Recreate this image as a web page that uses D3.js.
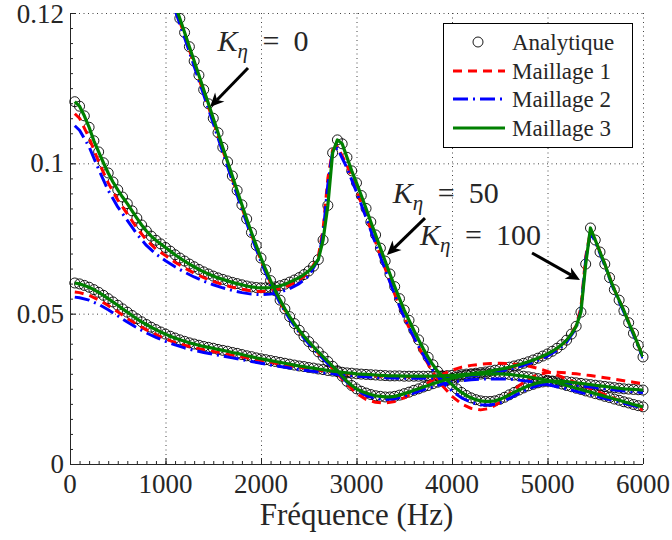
<!DOCTYPE html>
<html><head><meta charset="utf-8">
<script src="https://cdn.jsdelivr.net/npm/d3@7"></script>
<style>body{margin:0;background:#fff}</style>
</head><body>
<svg id="c" width="672" height="540"></svg>
<script>
// ---------------- DATA ----------------
const X_TICKS = [0, 1000, 2000, 3000, 4000, 5000, 6000];
const X_TICK_LABELS = ["0", "1000", "2000", "3000", "4000", "5000", "6000"];
const Y_TICKS = [0, 0.05, 0.1, 0.15];
const Y_TICK_LABELS = ["0", "0.05", "0.1", "0.12"];
const SERIES_NAMES = ["Analytique", "Maillage 1", "Maillage 2", "Maillage 3"];
const CURVE_LABELS = ["0", "50", "100"];

// analytic frequencies (Hz)
const F_ANA = d3.range(50, 6001, 50);
const F_ANA_K0 = d3.range(1100, 6001, 50);
// mesh result frequencies (Hz)
const F_LINE = [50, ...d3.range(100, 2601, 100), 2650, 2700, 2750, ...d3.range(2800, 5301, 100), 5350, 5400, 5450, ...d3.range(5500, 6001, 100)];
const F_LINE_K0 = d3.range(1100, 6001, 100);

// Analytique
const ana_K0 = [0.1528,
 0.1482,0.1435,0.1388,0.134,0.1293,0.1245,0.1198,0.115,0.1102,0.1053,
 0.1005,0.0958,0.091,0.0862,0.0815,0.077,0.0727,0.0685,0.0646,0.061,
 0.0576,0.0545,0.0516,0.049,0.0467,0.0445,0.0425,0.0407,0.039,0.0373,
 0.0357,0.0341,0.0325,0.031,0.0292,0.0275,0.0261,0.025,0.0242,0.0236,
 0.0231,0.0227,0.0225,0.0223,0.0223,0.0225,0.0229,0.0234,0.0239,0.0245,
 0.025,0.0256,0.0261,0.0267,0.0272,0.0277,0.0281,0.0285,0.0289,0.0292,
 0.0295,0.0297,0.0298,0.0299,0.03,0.03,0.03,0.03,0.0299,0.0298,
 0.0296,0.0294,0.0292,0.029,0.0287,0.0284,0.0281,0.0278,0.0274,0.027,
 0.0266,0.0261,0.0257,0.0252,0.0248,0.0243,0.0239,0.0234,0.023,0.0225,
 0.0221,0.0216,0.0212,0.0207,0.0203,0.0198,0.0194,0.019];
const ana_K50 = [
 0.1205,0.119,0.1158,0.112,0.1075,0.1038,0.1002,0.0968,0.0938,0.0912,
 0.0888,0.0866,0.0842,0.0818,0.0795,0.0775,0.0758,0.0744,0.0732,0.072,
 0.0708,0.0696,0.0685,0.0675,0.0665,0.0656,0.0647,0.0639,0.0632,0.0625,
 0.0619,0.0614,0.0609,0.0604,0.06,0.0596,0.0592,0.0589,0.0587,0.0586,
 0.0586,0.0587,0.0589,0.0593,0.0598,0.0605,0.0612,0.062,0.063,0.0642,
 0.0658,0.068,0.0745,0.086,0.1035,0.1078,0.1065,0.102,0.0975,0.0935,
 0.0893,0.085,0.0805,0.0762,0.0718,0.0675,0.0632,0.059,0.055,0.0512,
 0.0478,0.0445,0.0413,0.0383,0.0355,0.033,0.0308,0.0292,0.0278,0.0264,
 0.025,0.0238,0.0228,0.022,0.0214,0.021,0.0208,0.0208,0.021,0.0215,
 0.0222,0.023,0.0238,0.0246,0.0253,0.026,0.0265,0.027,0.0273,0.0275,
 0.0276,0.0276,0.0275,0.0274,0.0272,0.027,0.0268,0.0266,0.0264,0.0262,
 0.026,0.0258,0.0256,0.0254,0.0252,0.025,0.0249,0.0248,0.0247,0.0246];
const ana_K100 = [
 0.0602,0.0599,0.0594,0.0588,0.058,0.0571,0.0561,0.055,0.0539,0.0528,
 0.0516,0.0505,0.0494,0.0483,0.0473,0.0464,0.0455,0.0447,0.0439,0.0432,
 0.0425,0.0419,0.0413,0.0408,0.0403,0.0399,0.0395,0.0391,0.0388,0.0385,
 0.0381,0.0378,0.0375,0.0371,0.0368,0.0364,0.036,0.0357,0.0353,0.035,
 0.0347,0.0344,0.0341,0.0338,0.0335,0.0332,0.0329,0.0326,0.0324,0.0321,
 0.0319,0.0316,0.0314,0.0311,0.0309,0.0307,0.0305,0.0303,0.0302,0.03,
 0.0299,0.0298,0.0297,0.0296,0.0295,0.0294,0.0293,0.0293,0.0293,0.0292,
 0.0292,0.0292,0.0292,0.0292,0.0292,0.0292,0.0293,0.0293,0.0294,0.0295,
 0.0296,0.0297,0.0299,0.03,0.0302,0.0304,0.0306,0.0309,0.0312,0.0315,
 0.0318,0.0322,0.0326,0.033,0.0335,0.034,0.0346,0.0352,0.0359,0.0366,
 0.0375,0.0385,0.0397,0.0412,0.0432,0.0458,0.0505,0.0665,0.0785,0.0745,
 0.0705,0.0665,0.062,0.058,0.0545,0.051,0.047,0.0435,0.0395,0.0356];

// Maillage 1
const m1_K0 = [
 0.1518,0.1425,0.133,0.1235,0.114,0.1043,0.0948,0.0853,0.0762,0.0677,
 0.0602,0.0538,0.0484,0.0441,0.0403,0.0368,0.0334,0.03,0.0265,0.0235,
 0.0215,0.0205,0.0203,0.0208,0.022,0.0238,0.026,0.028,0.0298,0.0312,
 0.0322,0.0328,0.0332,0.0334,0.0335,0.0334,0.0331,0.0326,0.0318,0.0308,
 0.0296,0.0283,0.027,0.0257,0.0244,0.0231,0.0218,0.0205,0.0193,0.018];
const m1_K50 = [0.1165,
 0.115,0.1085,0.1005,0.0935,0.0878,0.0832,0.0785,0.0745,0.0715,0.0693,
 0.0671,0.0652,0.0635,0.062,0.0607,0.0597,0.0588,0.0581,0.0576,0.0574,
 0.0576,0.0583,0.0595,0.0612,0.0636,0.069,
 0.078,0.095,0.1045,
 0.1055,0.0995,0.091,0.0825,0.0738,0.065,0.0565,0.0487,0.042,0.036,
 0.0305,0.026,0.0225,0.02,0.0185,0.018,0.0185,0.0205,0.0232,0.026,
 0.0283,0.0298,0.0304,0.0305,0.0303,0.03,
 0.0298,0.0296,0.0294,
 0.0292,0.0287,0.0282,0.0277,0.0272,0.0267];
const m1_K100 = [0.0572,
 0.057,0.0561,0.0546,0.0527,0.0506,0.0484,0.0464,0.0446,0.043,0.0416,
 0.0404,0.0395,0.0387,0.038,0.0374,0.0368,0.0362,0.0356,0.035,0.0344,
 0.0338,0.0332,0.0327,0.0322,0.0317,0.0312,
 0.031,0.0308,0.0306,
 0.0304,0.03,0.0297,0.0295,0.0293,0.0292,0.0291,0.029,0.029,0.029,
 0.029,0.0291,0.0293,0.0295,0.0298,0.0302,0.0307,0.0313,0.032,0.0328,
 0.0338,0.035,0.0364,0.0383,0.041,0.046,
 0.052,0.069,0.0775,
 0.0745,0.0665,0.058,0.051,0.0435,0.0356];

// Maillage 2
const m2_K0 = [
 0.151,0.1418,0.1323,0.1228,0.1133,0.1037,0.0942,0.0848,0.0757,0.0673,
 0.0598,0.0535,0.0482,0.0438,0.04,0.0366,0.0334,0.0303,0.0272,0.0246,
 0.0228,0.0218,0.0214,0.0217,0.0225,0.0236,0.0247,0.0257,0.0266,0.0272,
 0.0277,0.028,0.0282,0.0283,0.0283,0.0282,0.0279,0.0275,0.027,0.0264,
 0.0257,0.025,0.0242,0.0234,0.0226,0.0218,0.021,0.0202,0.0194,0.0186];
const m2_K50 = [0.1125,
 0.111,0.1055,0.098,0.091,0.0855,0.081,0.0765,0.0727,0.0698,0.0676,
 0.0656,0.0638,0.0622,0.0608,0.0596,0.0586,0.0577,0.057,0.0565,0.0563,
 0.0565,0.0571,0.0583,0.06,0.0625,0.068,
 0.0765,0.093,0.104,
 0.105,0.0985,0.0905,0.082,0.0733,0.0647,0.0563,0.0487,0.0422,0.0363,
 0.0312,0.0272,0.0243,0.022,0.0205,0.0197,0.0196,0.0203,0.0218,0.0235,
 0.025,0.0261,0.0267,0.0268,0.0266,0.0262,
 0.026,0.0258,0.0256,
 0.0254,0.025,0.0246,0.0243,0.024,0.0238];
const m2_K100 = [0.0555,
 0.0553,0.0545,0.0531,0.0513,0.0493,0.0472,0.0453,0.0436,0.0421,0.0408,
 0.0396,0.0386,0.0378,0.0371,0.0365,0.0359,0.0353,0.0347,0.0341,0.0335,
 0.0329,0.0324,0.0319,0.0314,0.031,0.0306,
 0.0304,0.0302,0.03,
 0.0298,0.0295,0.0292,0.029,0.0288,0.0287,0.0286,0.0285,0.0285,0.0285,
 0.0285,0.0286,0.0288,0.029,0.0293,0.0297,0.0302,0.0308,0.0315,0.0323,
 0.0333,0.0345,0.0359,0.0378,0.0405,0.0452,
 0.051,0.068,0.077,
 0.074,0.066,0.0575,0.0505,0.043,0.0352];

// Maillage 3 (coincides with analytic reading)
const m3_K0 = ana_K0, m3_K50 = ana_K50, m3_K100 = ana_K100;

// annotation anchors in data units: text [f, value], arrow tail, arrow tip
const ANNOT = [
  {label: CURVE_LABELS[0], text: [1545, 0.1373], tail: [1864, 0.1317], tip: [1466, 0.1187]},
  {label: CURVE_LABELS[1], text: [3380, 0.0868], tail: [3717, 0.0818], tip: [3319, 0.0695]},
  {label: CURVE_LABELS[2], text: [3665, 0.0728], tail: [4838, 0.0702], tip: [5340, 0.0612]}
];

// ---------------- CHART ----------------
const FONT = '"Liberation Serif", monospace';
// activate the serif face before drawing
const cv = document.createElement("canvas").getContext("2d");
["23px", "27px", "30px", "31px", "italic 30px", "italic 21px"].forEach(s => {
  cv.font = `${s} "Liberation Serif", monospace`;
  cv.measureText("Fréquence (Hz) 0.05 Kη Analytique Maillage");
});

const TXT = "#262626";
const svg = d3.select("#c");
const x = d3.scaleLinear().domain([0, 6000]).range([70, 643]);
const y = d3.scaleLinear().domain([0, 0.15]).range([464, 13]);
const X0 = x.range()[0], X1 = x.range()[1], Y0 = y.range()[0], Y1 = y.range()[1];

svg.append("defs").append("clipPath").attr("id", "clip")
  .append("rect").attr("x", X0).attr("y", Y1).attr("width", X1 - X0).attr("height", Y0 - Y1);

// grid
const grid = svg.append("g").attr("stroke", "#444").attr("stroke-width", 1).attr("stroke-dasharray", "1,3.5");
grid.selectAll("line.v").data(X_TICKS.filter(d => d > 0)).join("line")
  .attr("x1", d => x(d) + 0.5).attr("x2", d => x(d) + 0.5).attr("y1", Y0).attr("y2", Y1);
grid.selectAll("line.h").data(Y_TICKS.filter(d => d > 0)).join("line")
  .attr("y1", d => y(d) + 0.5).attr("y2", d => y(d) + 0.5).attr("x1", X0).attr("x2", X1);

// axes (ticks drawn by d3 axes, labels placed as plain texts)
const xMinor = svg.append("g").attr("transform", `translate(0,${Y0})`)
  .call(d3.axisBottom(x).tickValues(d3.range(0, 6001, 100)).tickSizeInner(-3).tickSizeOuter(0).tickFormat(""));
const yMinor = svg.append("g").attr("transform", `translate(${X0},0)`)
  .call(d3.axisLeft(y).tickValues(d3.range(0, 0.1501, 0.005)).tickSizeInner(-3).tickSizeOuter(0).tickFormat(""));
const xAxis = svg.append("g").attr("transform", `translate(0,${Y0})`)
  .call(d3.axisBottom(x).tickValues(X_TICKS).tickSizeInner(-6).tickSizeOuter(0).tickFormat(""));
const yAxis = svg.append("g").attr("transform", `translate(${X0},0)`)
  .call(d3.axisLeft(y).tickValues(Y_TICKS).tickSizeInner(-6).tickSizeOuter(0).tickFormat(""));
[xMinor, yMinor, xAxis, yAxis].forEach(g => {
  g.attr("font-family", null);
  g.selectAll("line").attr("stroke", TXT);
  g.select(".domain").attr("stroke", TXT);
  g.selectAll("text").remove();
});
yMinor.select(".domain").remove(); xMinor.select(".domain").remove();
xAxis.select(".domain").attr("d", `M${X0},0.5H${X1}`);
yAxis.select(".domain").attr("d", `M0.5,${Y0}V${Y1}`);

const txt = (g, xx, yy, size, s, italic, anchor) => {
  const t = g.append("text").attr("x", xx).attr("y", yy)
    .attr("font-size", size).attr("fill", TXT).attr("text-anchor", anchor || "start")
    .style("font-family", FONT);
  if (italic) t.style("font-style", "italic");
  return t.text(s);
};

const gLab = svg.append("g");
X_TICKS.forEach((t, i) => txt(gLab, x(t), Y0 + 29, 27, X_TICK_LABELS[i], false, "middle"));
Y_TICKS.forEach((t, i) => txt(gLab, X0 - 6, Math.max(y(t) + 9, 23), 27, Y_TICK_LABELS[i], false, "end"));

// x label
txt(gLab, (X0 + X1) / 2, 525, 31, "Fréquence (Hz)", false, "middle");

// series
const curves = [
  {fa: F_ANA_K0, ana: ana_K0, fl: F_LINE_K0, m1: m1_K0, m2: m2_K0, m3: m3_K0},
  {fa: F_ANA, ana: ana_K50, fl: F_LINE, m1: m1_K50, m2: m2_K50, m3: m3_K50},
  {fa: F_ANA, ana: ana_K100, fl: F_LINE, m1: m1_K100, m2: m2_K100, m3: m3_K100}
];
const zip = (f, v) => f.map((d, i) => [d, v[i]]).filter(p => p[1] != null);
const line = d3.line().x(d => x(d[0])).y(d => y(d[1]));

const STY = {
  m1: {stroke: "#ff0000", width: 3, dash: "9,6"},
  m2: {stroke: "#0000ff", width: 3, dash: "15,5,2,5"},
  m3: {stroke: "#008000", width: 3.2, dash: null}
};

const gCirc = svg.append("g");
const gLines = svg.append("g").attr("clip-path", "url(#clip)");
curves.forEach(c => {
  gCirc.selectAll(null).data(zip(c.fa, c.ana).filter(p => p[1] <= 0.15)).join("circle")
    .attr("cx", d => x(d[0])).attr("cy", d => y(d[1])).attr("r", 5)
    .attr("fill", "none").attr("stroke", "#000").attr("stroke-width", 0.9);
});
["m1", "m2", "m3"].forEach(k => {
  curves.forEach(c => {
    const fr = k === "m3" ? c.fa : c.fl;
    gLines.append("path").datum(zip(fr, c[k])).attr("d", line)
      .attr("fill", "none").attr("stroke", STY[k].stroke).attr("stroke-width", STY[k].width)
      .attr("stroke-dasharray", STY[k].dash).attr("stroke-linejoin", "round");
  });
});

// annotations
const gAnn = svg.append("g");
ANNOT.forEach(a => {
  const tx = x(a.text[0]), ty = y(a.text[1]);
  txt(gAnn, tx, ty, 30, "K", true);
  txt(gAnn, tx + 20, ty + 7, 21, "η", true);
  txt(gAnn, tx + 45, ty, 30, "=", false);
  txt(gAnn, tx + 76, ty, 30, a.label, false);
  const x1 = x(a.tail[0]), y1 = y(a.tail[1]), x2 = x(a.tip[0]), y2 = y(a.tip[1]);
  const ang = Math.atan2(y2 - y1, x2 - x1), ux = Math.cos(ang), uy = Math.sin(ang), nx = -uy, ny = ux;
  const L = 14, W = 6.5, N = 10;
  gAnn.append("line").attr("x1", x1).attr("y1", y1).attr("x2", x2 - N * ux).attr("y2", y2 - N * uy)
    .attr("stroke", "#000").attr("stroke-width", 3);
  gAnn.append("path").attr("d",
    `M${x2},${y2}L${x2 - L * ux + W * nx},${y2 - L * uy + W * ny}L${x2 - N * ux},${y2 - N * uy}L${x2 - L * ux - W * nx},${y2 - L * uy - W * ny}Z`)
    .attr("fill", "#000");
});

// legend
const lg = svg.append("g");
lg.append("rect").attr("x", 443.5).attr("y", 23.5).attr("width", 189).attr("height", 124)
  .attr("fill", "#fff").attr("stroke", "#000").attr("stroke-width", 1);
const rowsY = [42, 71, 99, 128];
SERIES_NAMES.forEach((name, i) => {
  const yy = rowsY[i];
  if (i === 0) {
    lg.append("circle").attr("cx", 478).attr("cy", yy).attr("r", 5).attr("fill", "none").attr("stroke", "#000").attr("stroke-width", 0.9);
  } else {
    const s = STY["m" + i];
    lg.append("line").attr("x1", 453).attr("x2", 505).attr("y1", yy).attr("y2", yy)
      .attr("stroke", s.stroke).attr("stroke-width", s.width).attr("stroke-dasharray", s.dash);
  }
  txt(lg, 512, yy + 7.5, 23, name, false);
});
</script>
</body></html>
